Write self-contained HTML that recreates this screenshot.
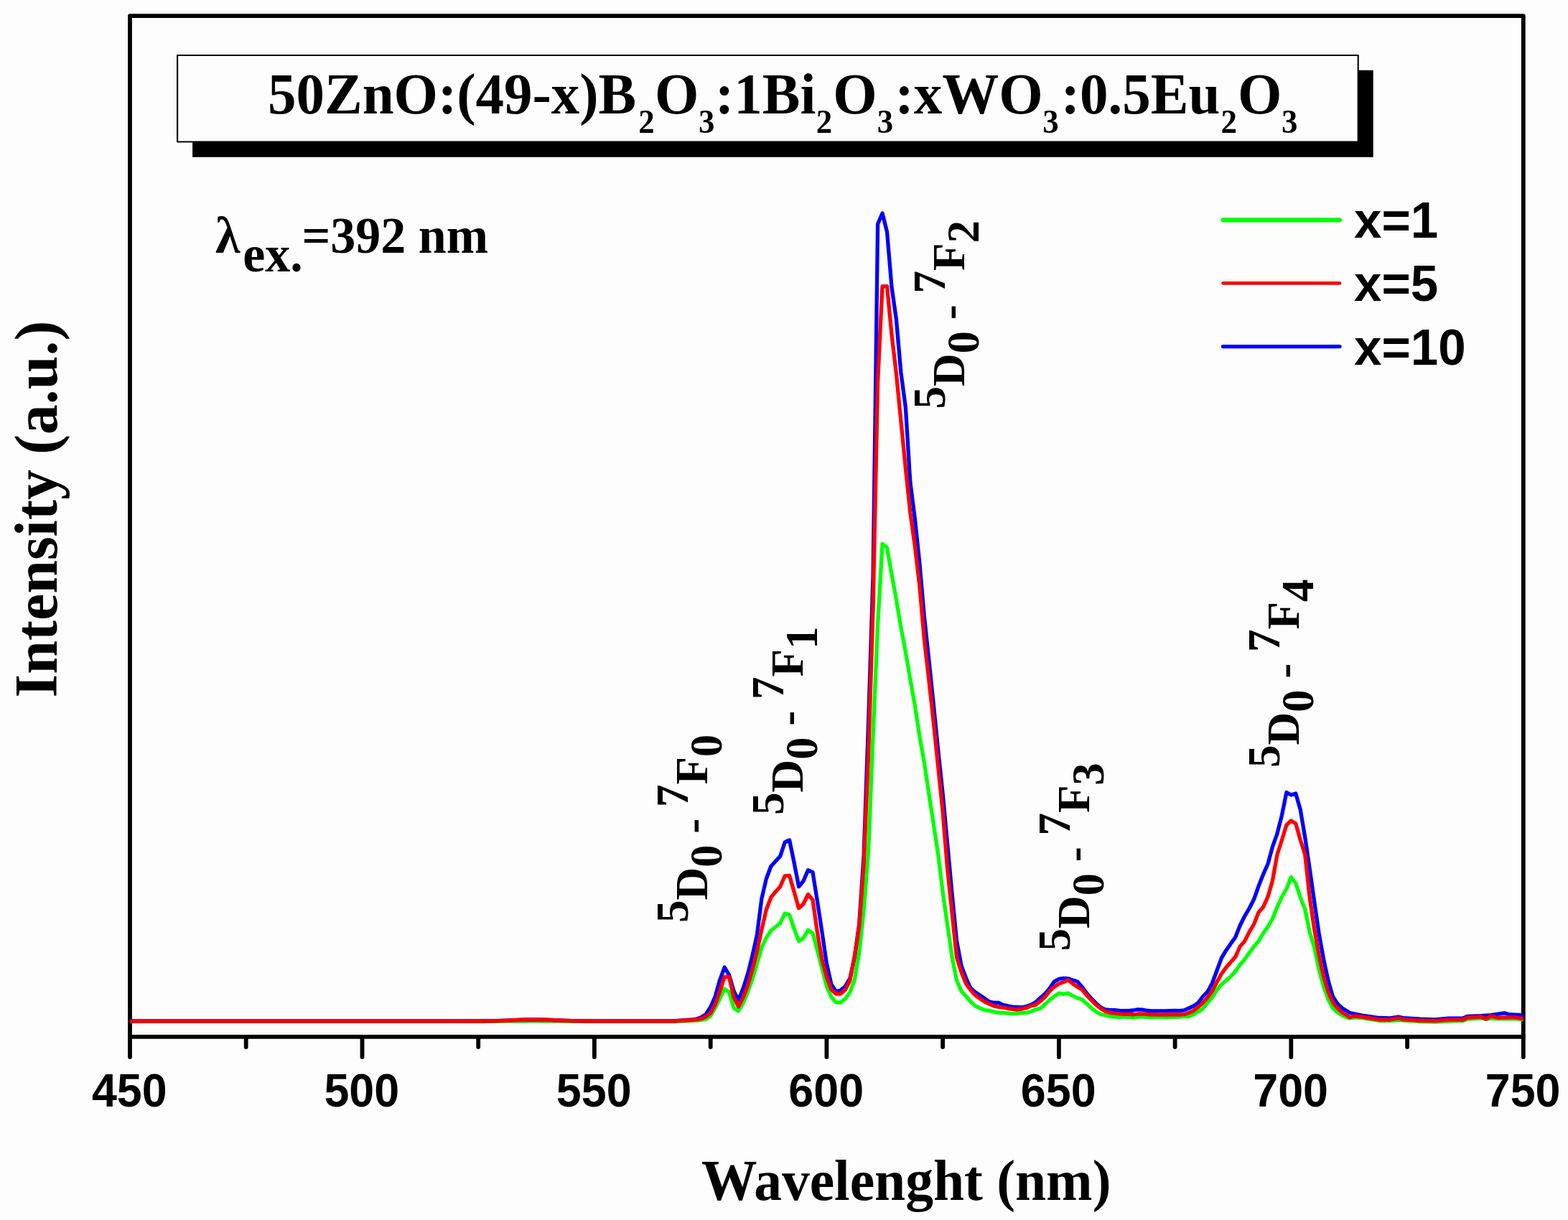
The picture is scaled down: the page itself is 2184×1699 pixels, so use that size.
<!DOCTYPE html>
<html><head><meta charset="utf-8"><title>Spectrum</title>
<style>
html,body{margin:0;padding:0;background:#fdfdfd;}
svg{display:block;}

</style></head>
<body>
<svg width="2184" height="1699" viewBox="0 0 2184 1699">
<rect width="2184" height="1699" fill="#fdfdfd"/>

<g stroke="#000" stroke-width="5.8" fill="none" stroke-linecap="round">
<path d="M181 22.1 H2121.8 V1443.9 H181 Z" stroke-linejoin="round"/>
<line x1="181.0" y1="1443.9" x2="181.0" y2="1472"/>
<line x1="342.7" y1="1443.9" x2="342.7" y2="1458"/>
<line x1="504.5" y1="1443.9" x2="504.5" y2="1472"/>
<line x1="666.2" y1="1443.9" x2="666.2" y2="1458"/>
<line x1="827.9" y1="1443.9" x2="827.9" y2="1472"/>
<line x1="989.7" y1="1443.9" x2="989.7" y2="1458"/>
<line x1="1151.4" y1="1443.9" x2="1151.4" y2="1472"/>
<line x1="1313.1" y1="1443.9" x2="1313.1" y2="1458"/>
<line x1="1474.9" y1="1443.9" x2="1474.9" y2="1472"/>
<line x1="1636.6" y1="1443.9" x2="1636.6" y2="1458"/>
<line x1="1798.3" y1="1443.9" x2="1798.3" y2="1472"/>
<line x1="1960.1" y1="1443.9" x2="1960.1" y2="1458"/>
<line x1="2121.8" y1="1443.9" x2="2121.8" y2="1472"/>
</g>
<g fill="none" stroke-width="5.3" stroke-linejoin="round" stroke-linecap="butt">
<polyline stroke="#00ff00" points="181.0,1422.5 187.5,1422.5 193.9,1422.5 200.4,1422.5 206.9,1422.5 213.3,1422.5 219.8,1422.5 226.3,1422.5 232.8,1422.5 239.2,1422.5 245.7,1422.5 252.2,1422.5 258.6,1422.5 265.1,1422.5 271.6,1422.5 278.0,1422.5 284.5,1422.5 291.0,1422.5 297.4,1422.5 303.9,1422.5 310.4,1422.5 316.9,1422.5 323.3,1422.5 329.8,1422.5 336.3,1422.5 342.7,1422.5 349.2,1422.5 355.7,1422.5 362.1,1422.5 368.6,1422.5 375.1,1422.5 381.5,1422.5 388.0,1422.5 394.5,1422.5 401.0,1422.5 407.4,1422.5 413.9,1422.5 420.4,1422.5 426.8,1422.5 433.3,1422.5 439.8,1422.5 446.2,1422.5 452.7,1422.5 459.2,1422.5 465.6,1422.5 472.1,1422.5 478.6,1422.5 485.1,1422.5 491.5,1422.5 498.0,1422.5 504.5,1422.5 510.9,1422.5 517.4,1422.5 523.9,1422.5 530.3,1422.5 536.8,1422.5 543.3,1422.5 549.8,1422.5 556.2,1422.5 562.7,1422.5 569.2,1422.5 575.6,1422.5 582.1,1422.5 588.6,1422.5 595.0,1422.5 601.5,1422.5 608.0,1422.5 614.4,1422.5 620.9,1422.5 627.4,1422.5 633.9,1422.5 640.3,1422.5 646.8,1422.5 653.3,1422.5 659.7,1422.5 666.2,1422.5 672.7,1422.5 679.1,1422.4 685.6,1422.4 692.1,1422.4 698.5,1422.3 705.0,1422.2 711.5,1422.2 718.0,1422.1 724.4,1422.0 730.9,1422.0 737.4,1421.9 743.8,1421.9 750.3,1421.9 756.8,1422.0 763.2,1422.0 769.7,1422.1 776.2,1422.2 782.6,1422.2 789.1,1422.3 795.6,1422.4 802.1,1422.4 808.5,1422.4 815.0,1422.5 821.5,1422.5 827.9,1422.5 834.4,1422.5 840.9,1422.5 847.3,1422.5 853.8,1422.5 860.3,1422.5 866.7,1422.5 873.2,1422.5 879.7,1422.5 886.2,1422.5 892.6,1422.5 899.1,1422.5 905.6,1422.5 912.0,1422.5 918.5,1422.5 925.0,1422.5 931.4,1422.5 937.9,1422.5 944.4,1422.4 950.8,1422.2 957.3,1421.9 963.8,1421.5 970.3,1421.2 976.7,1420.5 983.2,1419.2 989.7,1415.0 996.1,1403.5 1002.6,1391.0 1009.1,1377.1 1015.5,1381.5 1022.0,1403.6 1028.5,1408.0 1034.9,1397.4 1041.4,1381.5 1047.9,1363.9 1054.4,1341.8 1060.8,1320.0 1067.3,1306.0 1073.8,1296.0 1080.2,1291.0 1086.7,1285.8 1093.2,1272.1 1099.6,1274.0 1106.1,1293.3 1112.6,1310.5 1119.0,1306.4 1125.5,1295.2 1132.0,1299.5 1138.5,1323.6 1144.9,1348.4 1151.4,1373.1 1157.9,1388.4 1164.3,1395.8 1170.8,1396.1 1177.3,1391.0 1183.7,1382.4 1190.2,1365.0 1196.7,1327.0 1203.1,1268.0 1209.6,1185.0 1216.1,1023.0 1222.6,870.0 1229.0,757.3 1235.5,762.6 1242.0,800.0 1248.4,835.0 1254.9,874.0 1261.4,908.0 1267.8,946.0 1274.3,982.0 1280.8,1025.0 1287.3,1062.0 1293.7,1104.5 1300.2,1147.0 1306.7,1190.0 1313.1,1242.0 1319.6,1288.0 1326.1,1333.0 1332.5,1365.5 1339.0,1380.2 1345.5,1387.6 1351.9,1395.0 1358.4,1400.8 1364.9,1403.8 1371.4,1406.7 1377.8,1407.5 1384.3,1409.0 1390.8,1410.4 1397.2,1410.4 1403.7,1411.2 1410.2,1411.9 1416.6,1411.3 1423.1,1410.7 1429.6,1410.3 1436.0,1408.9 1442.5,1405.9 1449.0,1404.5 1455.5,1398.6 1461.9,1392.7 1468.4,1387.6 1474.9,1383.2 1481.3,1384.3 1487.8,1383.2 1494.3,1386.9 1500.7,1389.8 1507.2,1392.0 1513.7,1397.9 1520.1,1403.7 1526.6,1408.9 1533.1,1412.5 1539.6,1414.0 1546.0,1415.5 1552.5,1416.2 1559.0,1416.5 1565.4,1416.2 1571.9,1416.5 1578.4,1417.0 1584.8,1416.2 1591.3,1416.0 1597.8,1416.5 1604.2,1416.8 1610.7,1416.5 1617.2,1416.5 1623.7,1416.8 1630.1,1416.5 1636.6,1416.5 1643.1,1416.2 1649.5,1415.7 1656.0,1415.7 1662.5,1412.7 1668.9,1409.0 1675.4,1404.7 1681.9,1396.6 1688.3,1389.3 1694.8,1379.0 1701.3,1370.9 1707.8,1365.4 1714.2,1359.9 1720.7,1352.6 1727.2,1343.5 1733.6,1336.2 1740.1,1327.1 1746.6,1318.0 1753.0,1310.7 1759.5,1299.7 1766.0,1290.6 1772.4,1279.7 1778.9,1263.3 1785.4,1249.0 1791.9,1238.0 1798.3,1221.5 1804.8,1230.0 1811.3,1250.0 1817.7,1266.0 1824.2,1298.0 1830.7,1320.0 1837.1,1350.0 1843.6,1374.0 1850.1,1392.0 1856.5,1404.0 1863.0,1410.0 1869.5,1414.0 1876.0,1417.0 1880.0,1418.2 1886.9,1416.8 1897.2,1417.6 1921.2,1421.5 1935.0,1421.6 1947.5,1420.5 1954.4,1421.0 1978.4,1422.5 1999.0,1423.0 2017.4,1422.0 2038.0,1421.6 2043.7,1419.0 2063.2,1418.0 2070.0,1419.5 2076.9,1418.2 2086.0,1418.8 2109.0,1418.6 2121.8,1419.8"/>
<polyline stroke="#0000ff" points="181.0,1422.0 187.5,1422.0 193.9,1422.0 200.4,1422.0 206.9,1422.0 213.3,1422.0 219.8,1422.0 226.3,1422.0 232.8,1422.0 239.2,1422.0 245.7,1422.0 252.2,1422.0 258.6,1422.0 265.1,1422.0 271.6,1422.0 278.0,1422.0 284.5,1422.0 291.0,1422.0 297.4,1422.0 303.9,1422.0 310.4,1422.0 316.9,1422.0 323.3,1422.0 329.8,1422.0 336.3,1422.0 342.7,1422.0 349.2,1422.0 355.7,1422.0 362.1,1422.0 368.6,1422.0 375.1,1422.0 381.5,1422.0 388.0,1422.0 394.5,1422.0 401.0,1422.0 407.4,1422.0 413.9,1422.0 420.4,1422.0 426.8,1422.0 433.3,1422.0 439.8,1422.0 446.2,1422.0 452.7,1422.0 459.2,1422.0 465.6,1422.0 472.1,1422.0 478.6,1422.0 485.1,1422.0 491.5,1422.0 498.0,1422.0 504.5,1422.0 510.9,1422.0 517.4,1422.0 523.9,1422.0 530.3,1422.0 536.8,1422.0 543.3,1422.0 549.8,1422.0 556.2,1422.0 562.7,1422.0 569.2,1422.0 575.6,1422.0 582.1,1422.0 588.6,1422.0 595.0,1422.0 601.5,1422.0 608.0,1422.0 614.4,1422.0 620.9,1422.0 627.4,1422.0 633.9,1422.0 640.3,1422.0 646.8,1422.0 653.3,1422.0 659.7,1422.0 666.2,1421.9 672.7,1421.9 679.1,1421.8 685.6,1421.7 692.1,1421.6 698.5,1421.4 705.0,1421.1 711.5,1420.9 718.0,1420.6 724.4,1420.4 730.9,1420.2 737.4,1420.0 743.8,1420.0 750.3,1420.0 756.8,1420.2 763.2,1420.4 769.7,1420.6 776.2,1420.9 782.6,1421.1 789.1,1421.4 795.6,1421.6 802.1,1421.7 808.5,1421.8 815.0,1421.9 821.5,1421.9 827.9,1422.0 834.4,1422.0 840.9,1422.0 847.3,1422.0 853.8,1422.0 860.3,1422.0 866.7,1422.0 873.2,1422.0 879.7,1422.0 886.2,1422.0 892.6,1422.0 899.1,1422.0 905.6,1422.0 912.0,1422.0 918.5,1422.0 925.0,1422.0 931.4,1422.0 937.9,1422.0 944.4,1421.4 950.8,1420.9 957.3,1420.4 963.8,1419.9 970.3,1419.0 976.7,1416.8 983.2,1412.5 989.7,1402.5 996.1,1388.0 1002.6,1364.8 1009.1,1347.1 1015.5,1357.7 1022.0,1380.0 1028.5,1393.0 1034.9,1377.0 1041.4,1356.8 1047.9,1331.2 1054.4,1302.0 1060.8,1252.0 1067.3,1224.0 1073.8,1206.5 1080.2,1199.5 1086.7,1192.4 1093.2,1173.0 1099.6,1169.9 1106.1,1201.4 1112.6,1234.7 1119.0,1227.0 1125.5,1211.7 1132.0,1214.6 1138.5,1255.6 1144.9,1297.7 1151.4,1342.2 1157.9,1370.6 1164.3,1380.5 1170.8,1379.3 1177.3,1373.5 1183.7,1363.0 1190.2,1334.0 1196.7,1287.0 1203.1,1192.0 1209.6,1005.0 1216.1,800.0 1222.6,312.0 1229.0,297.0 1235.5,322.8 1242.0,400.0 1248.4,444.7 1254.9,519.0 1261.4,567.6 1267.8,671.4 1274.3,722.3 1280.8,783.8 1287.3,858.0 1293.7,917.7 1300.2,980.0 1306.7,1045.0 1313.1,1105.0 1319.6,1175.0 1326.1,1245.0 1332.5,1310.0 1339.0,1345.0 1345.5,1362.0 1351.9,1376.0 1358.4,1381.7 1364.9,1386.0 1371.4,1390.5 1377.8,1395.0 1384.3,1396.4 1390.8,1396.4 1397.2,1399.4 1403.7,1400.8 1410.2,1402.3 1416.6,1402.3 1423.1,1403.0 1429.6,1401.5 1436.0,1399.3 1442.5,1395.7 1449.0,1389.8 1455.5,1384.0 1461.9,1376.6 1468.4,1367.1 1474.9,1363.4 1481.3,1362.3 1487.8,1362.7 1494.3,1364.9 1500.7,1367.1 1507.2,1374.4 1513.7,1383.2 1520.1,1390.5 1526.6,1397.1 1533.1,1403.0 1539.6,1405.9 1546.0,1406.7 1552.5,1406.7 1559.0,1407.4 1565.4,1407.6 1571.9,1407.6 1578.4,1407.0 1584.8,1405.8 1591.3,1406.2 1597.8,1407.5 1604.2,1408.0 1610.7,1408.0 1617.2,1407.8 1623.7,1407.8 1630.1,1407.6 1636.6,1407.4 1643.1,1407.6 1649.5,1406.9 1656.0,1404.0 1662.5,1401.0 1668.9,1396.6 1675.4,1387.8 1681.9,1381.2 1688.3,1369.5 1694.8,1352.0 1701.3,1334.4 1707.8,1323.4 1714.2,1314.3 1720.7,1305.2 1727.2,1288.8 1733.6,1276.0 1740.1,1265.0 1746.6,1252.3 1753.0,1234.1 1759.5,1217.7 1766.0,1203.0 1772.4,1179.4 1778.9,1161.1 1785.4,1135.6 1791.9,1103.5 1798.3,1107.0 1804.8,1105.0 1811.3,1128.0 1817.7,1166.0 1824.2,1210.0 1830.7,1256.0 1837.1,1300.0 1843.6,1336.0 1850.1,1366.0 1856.5,1388.0 1863.0,1398.0 1869.5,1404.0 1876.0,1408.0 1880.0,1410.5 1897.2,1414.0 1921.2,1417.5 1935.0,1418.0 1947.5,1416.2 1954.4,1417.6 1978.4,1419.2 1999.0,1419.8 2017.4,1418.2 2038.0,1418.0 2043.7,1415.5 2063.2,1414.6 2076.9,1413.6 2095.2,1410.8 2103.2,1413.0 2121.8,1413.6"/>
<polyline stroke="#ff0000" points="181.0,1422.1 187.5,1422.1 193.9,1422.1 200.4,1422.1 206.9,1422.1 213.3,1422.1 219.8,1422.1 226.3,1422.1 232.8,1422.1 239.2,1422.1 245.7,1422.1 252.2,1422.1 258.6,1422.1 265.1,1422.1 271.6,1422.1 278.0,1422.1 284.5,1422.1 291.0,1422.1 297.4,1422.1 303.9,1422.1 310.4,1422.1 316.9,1422.1 323.3,1422.1 329.8,1422.1 336.3,1422.1 342.7,1422.1 349.2,1422.1 355.7,1422.1 362.1,1422.1 368.6,1422.1 375.1,1422.1 381.5,1422.1 388.0,1422.1 394.5,1422.1 401.0,1422.1 407.4,1422.1 413.9,1422.1 420.4,1422.1 426.8,1422.1 433.3,1422.1 439.8,1422.1 446.2,1422.1 452.7,1422.1 459.2,1422.1 465.6,1422.1 472.1,1422.1 478.6,1422.1 485.1,1422.1 491.5,1422.1 498.0,1422.1 504.5,1422.1 510.9,1422.1 517.4,1422.1 523.9,1422.1 530.3,1422.1 536.8,1422.1 543.3,1422.1 549.8,1422.1 556.2,1422.1 562.7,1422.1 569.2,1422.1 575.6,1422.1 582.1,1422.1 588.6,1422.1 595.0,1422.1 601.5,1422.1 608.0,1422.1 614.4,1422.1 620.9,1422.1 627.4,1422.1 633.9,1422.1 640.3,1422.1 646.8,1422.1 653.3,1422.1 659.7,1422.1 666.2,1422.0 672.7,1422.0 679.1,1421.9 685.6,1421.8 692.1,1421.6 698.5,1421.4 705.0,1421.1 711.5,1420.8 718.0,1420.5 724.4,1420.2 730.9,1420.0 737.4,1419.9 743.8,1419.8 750.3,1419.9 756.8,1420.0 763.2,1420.2 769.7,1420.5 776.2,1420.8 782.6,1421.1 789.1,1421.4 795.6,1421.6 802.1,1421.8 808.5,1421.9 815.0,1422.0 821.5,1422.0 827.9,1422.1 834.4,1422.1 840.9,1422.1 847.3,1422.1 853.8,1422.1 860.3,1422.1 866.7,1422.1 873.2,1422.1 879.7,1422.1 886.2,1422.1 892.6,1422.1 899.1,1422.1 905.6,1422.1 912.0,1422.1 918.5,1422.1 925.0,1422.1 931.4,1422.1 937.9,1422.1 944.4,1421.7 950.8,1421.2 957.3,1420.8 963.8,1420.3 970.3,1419.8 976.7,1418.7 983.2,1416.0 989.7,1410.7 996.1,1399.0 1002.6,1381.0 1009.1,1360.4 1015.5,1360.4 1022.0,1388.6 1028.5,1401.9 1034.9,1389.5 1041.4,1372.7 1047.9,1350.6 1054.4,1325.0 1060.8,1295.0 1067.3,1267.0 1073.8,1249.8 1080.2,1242.0 1086.7,1234.8 1093.2,1219.8 1099.6,1219.3 1106.1,1242.0 1112.6,1264.8 1119.0,1259.0 1125.5,1245.5 1132.0,1253.2 1138.5,1298.9 1144.9,1336.0 1151.4,1360.7 1157.9,1378.0 1164.3,1384.2 1170.8,1384.0 1177.3,1378.5 1183.7,1366.0 1190.2,1332.0 1196.7,1290.0 1203.1,1205.0 1209.6,1050.0 1216.1,845.0 1222.6,532.0 1229.0,398.6 1235.5,398.6 1242.0,466.0 1248.4,520.5 1254.9,586.6 1261.4,652.4 1267.8,713.8 1274.3,760.5 1280.8,815.6 1287.3,890.0 1293.7,946.0 1300.2,1005.0 1306.7,1068.0 1313.1,1130.0 1319.6,1210.0 1326.1,1272.0 1332.5,1333.0 1339.0,1353.7 1345.5,1370.0 1351.9,1378.8 1358.4,1386.0 1364.9,1390.5 1371.4,1395.0 1377.8,1398.0 1384.3,1400.8 1390.8,1402.3 1397.2,1403.0 1403.7,1404.5 1410.2,1405.3 1416.6,1406.0 1423.1,1405.2 1429.6,1403.7 1436.0,1400.8 1442.5,1399.3 1449.0,1394.2 1455.5,1388.4 1461.9,1380.3 1468.4,1374.4 1474.9,1370.0 1481.3,1367.8 1487.8,1364.9 1494.3,1370.0 1500.7,1374.4 1507.2,1378.1 1513.7,1386.2 1520.1,1392.7 1526.6,1399.3 1533.1,1404.5 1539.6,1408.5 1546.0,1410.3 1552.5,1411.1 1559.0,1411.8 1565.4,1412.4 1571.9,1412.2 1578.4,1413.0 1584.8,1412.0 1591.3,1411.8 1597.8,1412.5 1604.2,1413.0 1610.7,1413.2 1617.2,1413.2 1623.7,1413.0 1630.1,1413.0 1636.6,1413.0 1643.1,1413.0 1649.5,1412.7 1656.0,1410.5 1662.5,1407.6 1668.9,1402.5 1675.4,1396.6 1681.9,1389.3 1688.3,1380.5 1694.8,1368.0 1701.3,1356.3 1707.8,1347.2 1714.2,1339.9 1720.7,1332.6 1727.2,1318.0 1733.6,1310.7 1740.1,1297.9 1746.6,1287.0 1753.0,1270.6 1759.5,1263.3 1766.0,1248.7 1772.4,1226.8 1778.9,1190.3 1785.4,1170.0 1791.9,1149.0 1798.3,1143.0 1804.8,1147.0 1811.3,1170.0 1817.7,1190.0 1824.2,1250.0 1830.7,1294.0 1837.1,1330.0 1843.6,1360.0 1850.1,1382.0 1856.5,1396.0 1863.0,1404.0 1869.5,1410.0 1876.0,1414.0 1880.0,1416.7 1886.9,1415.0 1897.2,1416.2 1921.2,1420.2 1935.0,1420.2 1947.5,1417.9 1954.4,1419.6 1978.4,1421.3 1999.0,1421.9 2017.4,1420.2 2038.0,1420.2 2043.7,1417.3 2063.2,1416.2 2070.0,1419.0 2076.9,1415.0 2086.0,1417.3 2109.0,1416.7 2121.8,1419.0"/>
</g>
<g font-family='"Liberation Sans", Arial, sans-serif' font-weight="bold" font-size="65" text-anchor="middle" fill="#000">
<text transform="translate(180.3 1541) scale(0.966 1)">450</text>
<text transform="translate(503.8 1541) scale(0.966 1)">500</text>
<text transform="translate(827.2 1541) scale(0.966 1)">550</text>
<text transform="translate(1150.7 1541) scale(0.966 1)">600</text>
<text transform="translate(1474.2 1541) scale(0.966 1)">650</text>
<text transform="translate(1797.6 1541) scale(0.966 1)">700</text>
<text transform="translate(2121.1 1541) scale(0.966 1)">750</text>
</g>
<text transform="translate(977 1670.5) scale(0.969 1)" font-family='"Liberation Serif", "Times New Roman", serif' font-weight="bold" font-size="80">Wavelenght (nm)</text>
<text transform="translate(78.5 971.5) rotate(-90)" font-family='"Liberation Serif", "Times New Roman", serif' font-weight="bold" font-size="84">Intensity (a.u.)</text>
<!-- title box -->
<rect x="268.1" y="97.8" width="1644.6" height="121" fill="#000"/>
<rect x="247.1" y="77" width="1644.6" height="120.5" fill="#fdfdfd" stroke="#000" stroke-width="2.1" stroke-linejoin="round"/>
<text transform="translate(373 158) scale(0.975 1)" font-family='"Liberation Serif", "Times New Roman", serif' font-weight="bold" font-size="81">50ZnO:(49-x)B<tspan font-size="46" dy="27" dx="3">2</tspan><tspan dy="-27" dx="0.5">O</tspan><tspan font-size="46" dy="27" dx="-0.5">3</tspan><tspan dy="-27" dx="0.5">:1Bi</tspan><tspan font-size="46" dy="27" dx="0.5">2</tspan><tspan dy="-27" dx="1">O</tspan><tspan font-size="46" dy="27" dx="0">3</tspan><tspan dy="-27" dx="2.4">:xWO</tspan><tspan font-size="46" dy="27" dx="-0.4">3</tspan><tspan dy="-27" dx="3.3">:0.5Eu</tspan><tspan font-size="46" dy="27" dx="1.2">2</tspan><tspan dy="-27" dx="1">O</tspan><tspan font-size="46" dy="27" dx="-0.5">3</tspan></text>
<!-- lambda -->
<text transform="translate(300 352) scale(0.966 1)" font-family='"Liberation Serif", "Times New Roman", serif' font-size="72.5"><tspan font-weight="bold">&#955;</tspan><tspan font-weight="bold" dy="26" dx="4">ex.</tspan><tspan font-weight="bold" dy="-26" dx="-1.5">=392 nm</tspan></text>
<!-- legend -->
<g stroke-width="5" stroke-linecap="round">
<line x1="1703.5" y1="306.3" x2="1866" y2="306.3" stroke="#00ff00" stroke-width="6.2"/>
<line x1="1703.5" y1="394.4" x2="1866" y2="394.4" stroke="#ff0000" stroke-width="4.6"/>
<line x1="1703.5" y1="482.6" x2="1866" y2="482.6" stroke="#0000ff" stroke-width="5.4"/>
</g>
<g font-family='"Liberation Sans", Arial, sans-serif' font-weight="bold" font-size="70.5" fill="#000">
<text transform="translate(1886 331) scale(0.98 1)">x=1</text>
<text transform="translate(1886 419) scale(0.98 1)">x=5</text>
<text transform="translate(1886 508) scale(0.98 1)">x=10</text>
</g>
<!-- annotations -->
<g font-family='"Liberation Serif", "Times New Roman", serif' font-weight="bold" font-size="63" fill="#000">
<text transform="translate(985.4 1285.1) rotate(-90)"><tspan dy="-27">5</tspan><tspan dy="27">D</tspan><tspan dy="20">0</tspan><tspan dy="-20"> - </tspan><tspan dy="-27">7</tspan><tspan dy="27">F</tspan><tspan dy="20">0</tspan></text>
<text transform="translate(1117.5 1135.0) rotate(-90)"><tspan dy="-27">5</tspan><tspan dy="27">D</tspan><tspan dy="20">0</tspan><tspan dy="-20"> - </tspan><tspan dy="-27">7</tspan><tspan dy="27">F</tspan><tspan dy="20">1</tspan></text>
<text transform="translate(1343.0 569.5) rotate(-90)"><tspan dy="-27">5</tspan><tspan dy="27">D</tspan><tspan dy="20">0</tspan><tspan dy="-20"> - </tspan><tspan dy="-27">7</tspan><tspan dy="27">F</tspan><tspan dy="20">2</tspan></text>
<text transform="translate(1517.0 1324.6) rotate(-90)"><tspan dy="-27">5</tspan><tspan dy="27">D</tspan><tspan dy="20">0</tspan><tspan dy="-20"> - </tspan><tspan dy="-27">7</tspan><tspan dy="27">F</tspan><tspan dy="20">3</tspan></text>
<text transform="translate(1808.6 1069.0) rotate(-90)"><tspan dy="-27">5</tspan><tspan dy="27">D</tspan><tspan dy="20">0</tspan><tspan dy="-20"> - </tspan><tspan dy="-27">7</tspan><tspan dy="27">F</tspan><tspan dy="20">4</tspan></text>
</g>
</svg>
</body></html>
